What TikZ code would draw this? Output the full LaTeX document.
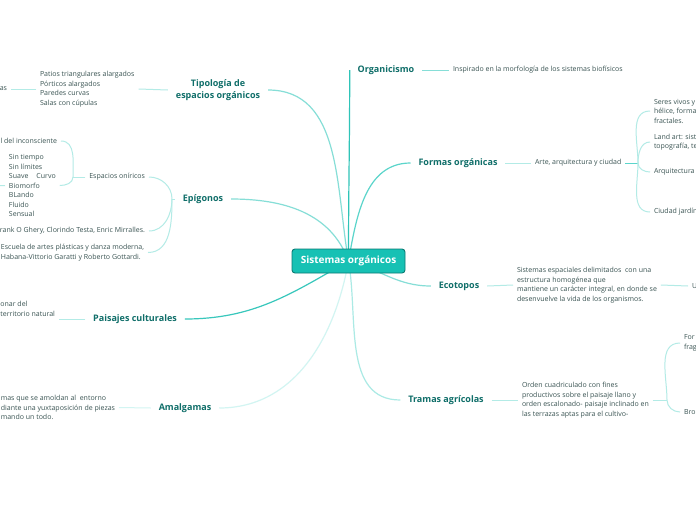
\documentclass[tikz,border=0pt]{standalone}
\usepackage{fontspec}
\setmainfont{Open Sans}
\usetikzlibrary{backgrounds}
\definecolor{labc}{HTML}{0F6E69}
\definecolor{subc}{HTML}{3A5453}
\definecolor{cfill}{HTML}{17C1B4}
\definecolor{cbord}{HTML}{0B7A73}
\definecolor{lnA}{HTML}{2FC4B8}
\definecolor{lnB}{HTML}{5BD5CB}
\definecolor{lnC}{HTML}{86DED7}
\definecolor{lnD}{HTML}{ABEAE5}
\definecolor{lnE}{HTML}{D2F5F2}
\definecolor{lnS}{HTML}{B3EBE6}
\begin{document}
\begin{tikzpicture}[x=1pt,y=-1pt,
  centre/.style={draw=cbord, fill=cfill, text=white, line width=0.9pt,
    font=\bfseries\fontsize{10}{11}\selectfont, rounded corners=3pt,
    minimum width=113pt, minimum height=24pt, inner sep=0pt},
  lab/.style={text=labc, font=\bfseries\fontsize{9}{12}\selectfont, inner sep=0pt, outer sep=8pt},
  sub/.style={text=subc, font=\fontsize{7}{9.5}\selectfont, align=left, inner sep=0pt, outer sep=4pt},
  mainln/.style={line width=1.2pt},
  subln/.style={line width=1pt, draw=lnS}]
\useasboundingbox (0,0) rectangle (696,520);
\clip (0,0) rectangle (696,520);
% central topic
\node[centre] (c) at (348.5,261) {Sistemas orgánicos};
% main branches
\node[lab] (orga) at (386,70) {Organicismo};
\node[lab, align=center] (tipo) at (218,90) {Tipología de\\espacios orgánicos};
\node[lab] (epi) at (203,199) {Epígonos};
\node[lab] (pais) at (135,319) {Paisajes culturales};
\node[lab] (amal) at (185,408) {Amalgamas};
\node[lab] (formas) at (458,163) {Formas orgánicas};
\node[lab] (eco) at (459,286) {Ecotopos};
\node[lab] (tramas) at (446,400) {Tramas agrícolas};
% sub topics
\node[sub, anchor=west] (insp) at (449,70) {Inspirado en la morfología de los sistemas biofísicos};
\node[sub, anchor=west] (patios) at (36,89) {Patios triangulares alargados\\Pórticos alargados\\Paredes curvas\\Salas con cúpulas};
\node[sub, anchor=east] (as) at (11,89) {as};
\node[sub, anchor=east] (onir) at (149,177) {Espacios oníricos};
\node[sub, anchor=east] (frank) at (149,231) {rank O Ghery, Clorindo Testa, Enric Mirralles.};
\node[sub, anchor=east] (escu) at (148,252.5) {Escuela de artes plásticas y danza moderna,\\Habana-Vittorio Garatti y Roberto Gottardi.};
\node[sub, anchor=east] (incons) at (61,141) {l del inconsciente};
\node[sub, anchor=west] (sint) at (5,185.5) {Sin tiempo\\Sin límites\\Suave\hspace{8pt}Curvo\\Biomorfo\\BLando\\Fluido\\Sensual};
\node[sub, anchor=east] (onar) at (59,309) {onar del\\territorio natural};
\node[sub, anchor=east] (amt) at (119,407.5) {mas que se amoldan al \ entorno\\diante una yuxtaposición de piezas\\mando un todo.};
\node[sub, anchor=west] (arte) at (531,163) {Arte, arquitectura y ciudad};
\node[sub, anchor=west] (seres) at (650,111) {Seres vivos y\\hélice, forma\\fractales.};
\node[sub, anchor=west] (land) at (650,142) {Land art: sist\\topografía, te};
\node[sub, anchor=west] (arq) at (650,172) {Arquitectura};
\node[sub, anchor=west] (ciud) at (650,212) {Ciudad jardín};
\node[sub, anchor=west] (ecot) at (513,285) {Sistemas espaciales delimitados \ con una\\estructura homogénea que\\mantiene un carácter integral, en donde se\\desenvuelve la vida de los organismos.};
\node[sub, anchor=west] (u) at (688,286) {U};
\node[sub, anchor=west] (trt) at (518,400) {Orden cuadriculado con fines\\productivos sobre el paisaje llano y\\orden escalonado- paisaje inclinado en\\las terrazas aptas para el cultivo-};
\node[sub, anchor=west] (fo) at (680,343) {For\\frag};
\node[sub, anchor=west] (bro) at (680,412) {Bro};
% hubs and free ends
\coordinate (hubE) at (172,199);
\coordinate (hubO) at (73,177);
\coordinate (hubF) at (638,163);
\coordinate (hubT) at (667,400);
\coordinate (offL) at (-30,186);
\begin{scope}[on background layer]
\fill[white] (0,0) rectangle (696,520);
% main connectors
\draw[mainln, draw=lnA] (c.center) to[out=90,in=-90] (orga.west);
\draw[mainln, draw=lnB] (c.center) to[out=80,in=180] (formas.west);
\draw[mainln, draw=lnC] (c.center) to[out=-15,in=180] (eco.west);
\draw[mainln, draw=lnD] (c.center) to[out=-80,in=180] (tramas.west);
\draw[mainln, draw=lnE] (c.center) to[out=-100,in=0] (amal.east);
\draw[mainln, draw=lnA!80!lnB] (c.center) to[out=-150,in=0] (pais.east);
\draw[mainln, draw=lnC] (c.center) to[out=110,in=0] (epi.east);
\draw[mainln, draw=lnC] (c.center) to[out=100,in=0] (tipo.east);
% sub connectors
\draw[subln, draw=lnC] (orga.east) -- (insp.west);
\draw[subln] (tipo.west) -- (patios.east);
\draw[subln] (patios.west) -- (as.east);
\draw[subln] (epi.west) -- (hubE);
\draw[subln] (hubE) to[out=90,in=0] (onir.east);
\draw[subln] (hubE) to[out=-90,in=0] (frank.east);
\draw[subln] (hubE) to[out=-90,in=0] (escu.east);
\draw[subln] (onir.west) -- (hubO);
\draw[subln] (hubO) to[out=90,in=0] (incons.east);
\draw[subln] (hubO) to[out=-90,in=0] (sint.east);
\draw[subln] (sint.west) -- (offL);
\draw[subln] (pais.west) -- (pais.west -| onar.east);
\draw[subln, draw=lnE] (amal.west) -- (amt.east);
\draw[subln] (formas.east) -- (arte.west);
\draw[subln, draw=lnB] (arte.east) -- (hubF);
\draw[subln] (hubF) to[out=90,in=180] (seres.west);
\draw[subln] (hubF) to[out=90,in=180] (land.west);
\draw[subln] (hubF) to[out=-90,in=180] (arq.west);
\draw[subln] (hubF) to[out=-90,in=180] (ciud.west);
\draw[subln] (eco.east) -- (ecot.west);
\draw[subln] (ecot.east) -- (u.west);
\draw[subln] (tramas.east) -- (trt.west);
\draw[subln] (trt.east) -- (hubT);
\draw[subln] (hubT) to[out=90,in=180] (fo.west);
\draw[subln] (hubT) to[out=-90,in=180] (bro.west);
\end{scope}
\end{tikzpicture}
\end{document}
